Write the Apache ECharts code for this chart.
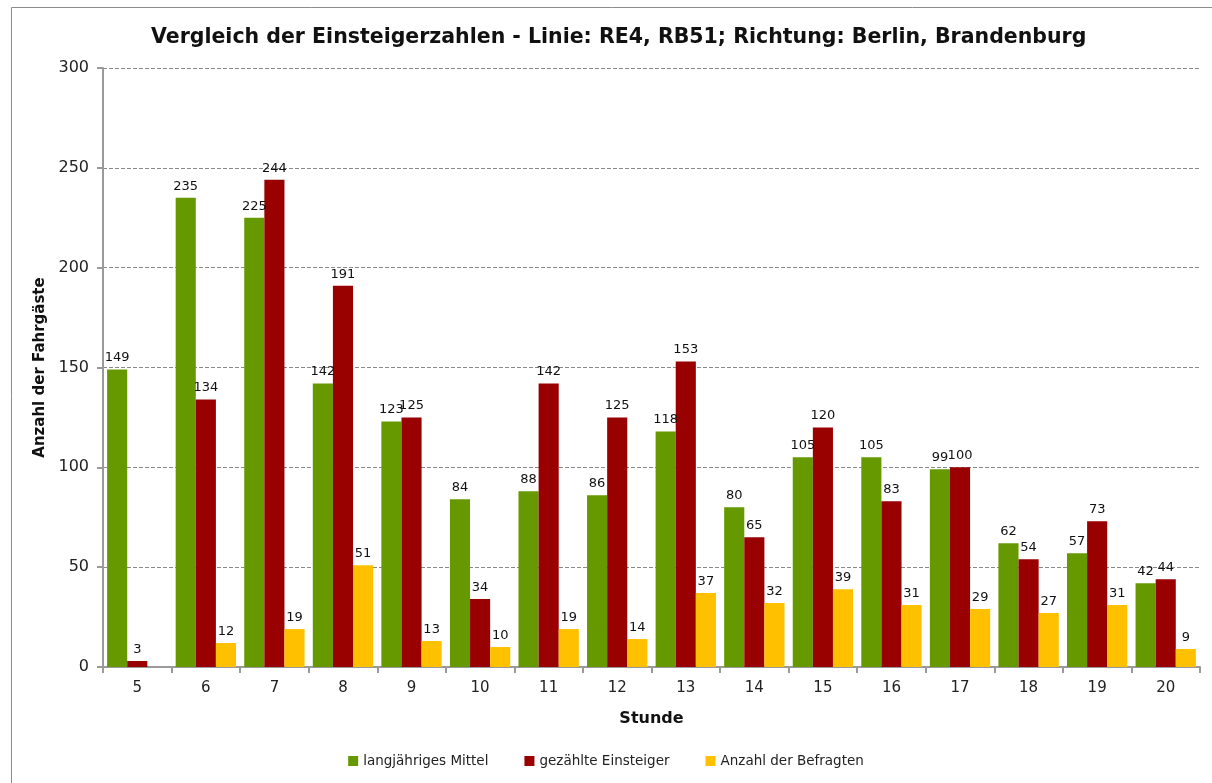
<!DOCTYPE html>
<html>
<head>
    <meta charset="utf-8">
    <title>ECharts</title>
    <script src="https://cdn.jsdelivr.net/npm/echarts@6/dist/echarts.min.js"></script>
    <style>body{margin:0;background:#fff;}</style>
</head>
<body>
<div id="main" style="width: 1212px;height:783px;"></div>
<script type="text/javascript">
    // Stunden
    var stunden = ['5', '6', '7', '8', '9', '10', '11', '12', '13', '14', '15', '16', '17', '18', '19', '20'];
    var mittel = [149, 235, 225, 142, 123, 84, 88, 86, 118, 80, 105, 105, 99, 62, 57, 42];
    var gezaehlt = [3, 134, 244, 191, 125, 34, 142, 125, 153, 65, 120, 83, 100, 54, 73, 44];
    var befragte = [null, 12, 19, 51, 13, 10, 19, 14, 37, 32, 39, 31, 29, 27, 31, 9];

    var font = 'Tahoma, "DejaVu Sans", sans-serif';
    var labelStyle = {show: true, position: 'top', color: '#111', fontSize: 13, fontFamily: font, distance: 5};

    var myChart = echarts.init(document.getElementById('main'));
    myChart.setOption({
        animation: false,
        textStyle: {fontFamily: font},
        title: {
            text: 'Vergleich der Einsteigerzahlen - Linie: RE4, RB51; Richtung: Berlin, Brandenburg',
            left: 146, top: 22,
            textStyle: {fontSize: 20.5, fontWeight: 'bold', color: '#111', fontFamily: font}
        },
        graphic: [{
            type: 'rect', left: 9, top: 5,
            shape: {width: 1230, height: 800},
            style: {fill: 'none', stroke: '#8c8c8c', lineWidth: 1}
        }],
        legend: {
            bottom: 10, left: 'center', itemWidth: 10, itemHeight: 10, itemGap: 36,
            icon: 'rect',
            textStyle: {fontSize: 13.5, color: '#222', fontFamily: font},
            data: ['langjähriges Mittel', 'gezählte Einsteiger', 'Anzahl der Befragten']
        },
        grid: {left: 103, right: 12, top: 68, bottom: 116},
        xAxis: {
            type: 'category',
            data: stunden,
            name: 'Stunde', nameLocation: 'middle', nameGap: 44,
            nameTextStyle: {fontSize: 16, fontWeight: 'bold', color: '#111'},
            axisLine: {lineStyle: {color: '#9a9a9a', width: 2}},
            axisTick: {show: true, length: 6, lineStyle: {color: '#9a9a9a', width: 2}},
            axisLabel: {fontSize: 15, color: '#222', margin: 14}
        },
        yAxis: {
            type: 'value', min: 0, max: 300, interval: 50,
            name: 'Anzahl der Fahrgäste', nameLocation: 'middle', nameGap: 52, nameRotate: 90,
            nameTextStyle: {fontSize: 15, fontWeight: 'bold', color: '#111'},
            axisLine: {show: true, lineStyle: {color: '#9a9a9a', width: 2}},
            axisTick: {show: true, length: 6, lineStyle: {color: '#9a9a9a', width: 2}},
            axisLabel: {fontSize: 16, color: '#222', margin: 14},
            splitLine: {lineStyle: {color: '#8a8a8a', type: 'dashed', width: 1}}
        },
        series: [
            {name: 'langjähriges Mittel', type: 'bar', data: mittel, barGap: '0%', barCategoryGap: '12%',
                itemStyle: {color: '#669900'}, label: labelStyle},
            {name: 'gezählte Einsteiger', type: 'bar', data: gezaehlt,
                itemStyle: {color: '#990000'}, label: labelStyle},
            {name: 'Anzahl der Befragten', type: 'bar', data: befragte,
                itemStyle: {color: '#FFC000'}, label: labelStyle}
        ]
    });
</script>
</body>
</html>
